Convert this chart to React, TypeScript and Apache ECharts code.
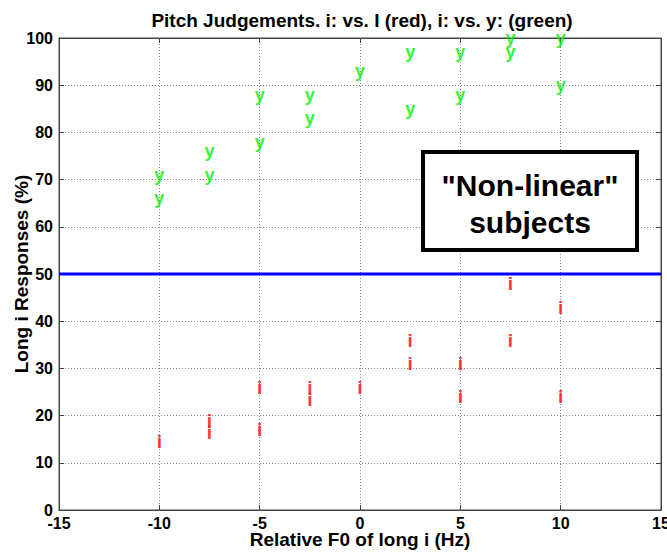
import React, { useEffect, useRef } from "react";
import * as echarts from "echarts";

const xTicks = [-15, -10, -5, 0, 5, 10, 15];
const yTicks = [0, 10, 20, 30, 40, 50, 60, 70, 80, 90, 100];

// green "y" responses: [F0 offset, % long i]
const greenX = [-10, -10, -7.5, -7.5, -5, -5, -2.5, -2.5, 0, 2.5, 2.5, 5, 5, 7.5, 7.5, 10, 10];
const greenY = [71, 66, 76, 71, 88, 78, 88, 83, 93, 97, 85, 97, 88, 100, 97, 100, 90];

// red "i" responses
const redX = [-10, -7.5, -7.5, -5, -5, -2.5, -2.5, 0, 2.5, 2.5, 5, 5, 7.5, 7.5, 10, 10];
const redY = [14.5, 19, 16.5, 26, 17, 26, 23.5, 26, 36, 31, 31, 24, 48, 36, 43, 24];

const refLineY = 50;

const titleText = "Pitch Judgements. i: vs. I (red), i: vs. y: (green)";
const xName = "Relative F0 of long i (Hz)";
const yName = "Long i Responses (%)";
const boxLines = ['"Non-linear"', "subjects"];

export default function App() {
  const ref = useRef<HTMLDivElement>(null);
  useEffect(() => {
    document.body.style.margin = "0";
    const chart = echarts.init(ref.current!, null, { renderer: "svg" });
    const font = "Liberation Sans, Arial, Helvetica, sans-serif";
    const tickLabel = { fontFamily: font, fontWeight: "bold" as const, fontSize: 16, color: "#000" };
    const split = { show: true, lineStyle: { color: "#888", type: [1, 2] as any, width: 1 } };
    const gLeft = 59, gRight = 6, gTop = 38, gBottom = 44;
    const toPts = (xs: number[], ys: number[]) => xs.map((x, i) => [x, ys[i]]);
    const axisLine = { show: true, onZero: false, lineStyle: { color: "#444" } };
    const axisTick = { show: true, inside: true, length: 5, lineStyle: { color: "#444" } };
    chart.setOption({
      animation: false,
      backgroundColor: "#fff",
      grid: {
        left: gLeft, right: gRight, top: gTop, bottom: gBottom,
        containLabel: false, outerBoundsMode: "none",
        show: true, borderColor: "#444", borderWidth: 1, backgroundColor: "#fff",
      },
      xAxis: [
        {
          type: "value", min: xTicks[0], max: xTicks[xTicks.length - 1], interval: 5,
          axisLine, axisTick,
          axisLabel: { ...tickLabel, margin: 5 },
          splitLine: split,
          name: xName, nameLocation: "middle", nameGap: 20, nameMoveOverlap: false,
          nameTextStyle: { fontFamily: font, fontWeight: "bold", fontSize: 19, color: "#000", verticalAlign: "top" },
        },
        {
          type: "value", min: xTicks[0], max: xTicks[xTicks.length - 1], interval: 5, position: "top",
          axisLine, axisTick,
          axisLabel: { show: false }, splitLine: { show: false },
        },
      ],
      yAxis: [
        {
          type: "value", min: yTicks[0], max: yTicks[yTicks.length - 1], interval: 10,
          axisLine, axisTick,
          axisLabel: { ...tickLabel, margin: 6 },
          splitLine: split,
          name: yName, nameLocation: "middle", nameGap: 38, nameMoveOverlap: false,
          nameTextStyle: { fontFamily: font, fontWeight: "bold", fontSize: 19, color: "#000", verticalAlign: "middle" },
        },
        {
          type: "value", min: yTicks[0], max: yTicks[yTicks.length - 1], interval: 10, position: "right",
          axisLine, axisTick,
          axisLabel: { show: false }, splitLine: { show: false },
        },
      ],
      series: [
        {
          type: "line",
          data: [[xTicks[0], refLineY], [xTicks[xTicks.length - 1], refLineY]],
          symbol: "none",
          lineStyle: { color: "#0000ff", width: 3 },
          silent: true,
          z: 3,
        },
        {
          type: "scatter",
          data: toPts(greenX, greenY),
          symbolSize: 1,
          itemStyle: { color: "transparent" },
          label: {
            show: true, position: "inside", formatter: "y",
            fontFamily: font, fontWeight: "bold", fontSize: 18, color: "#00f000",
          },
          z: 4,
        },
        {
          type: "scatter",
          data: toPts(redX, redY),
          symbolSize: 1,
          itemStyle: { color: "transparent" },
          label: {
            show: true, position: "inside", formatter: "i",
            fontFamily: font, fontWeight: "bold", fontSize: 19, color: "#ff0000",
          },
          z: 4,
        },
      ],
      graphic: [
        {
          type: "text", x: 362, y: 20,
          style: {
            text: titleText, fontFamily: font, fontWeight: "bold", fontSize: 19,
            fill: "#000", textAlign: "center", textVerticalAlign: "middle",
          },
        },
        {
          type: "rect",
          shape: { x: 423, y: 152, width: 214, height: 98 },
          style: { fill: "#fff", stroke: "#000", lineWidth: 4 },
          z: 10,
        },
        {
          type: "text", x: 530, y: 185, z: 11,
          style: {
            text: boxLines[0], fontFamily: font, fontWeight: "bold", fontSize: 30,
            fill: "#000", textAlign: "center", textVerticalAlign: "middle",
          },
        },
        {
          type: "text", x: 530, y: 222, z: 11,
          style: {
            text: boxLines[1], fontFamily: font, fontWeight: "bold", fontSize: 30,
            fill: "#000", textAlign: "center", textVerticalAlign: "middle",
          },
        },
      ],
    });
    return () => chart.dispose();
  }, []);
  return <div ref={ref} style={{ width: 667, height: 554 }} />;
}
